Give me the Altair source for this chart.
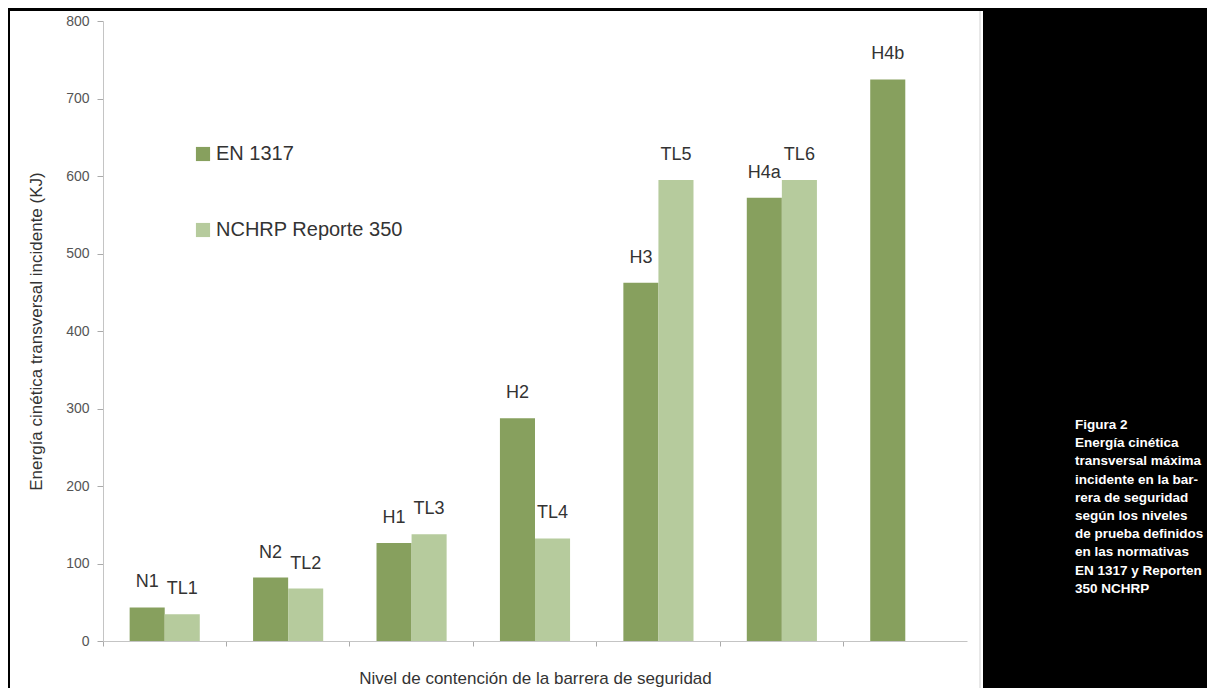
import altair as alt
import pandas as pd

categories = ["N1/TL1", "N2/TL2", "H1/TL3", "H2/TL4", "H3/TL5", "H4a/TL6", "H4b"]
en_labels = ["N1", "N2", "H1", "H2", "H3", "H4a", "H4b"]
en_values = [43.3, 81.9, 126.6, 287.5, 462.1, 572.0, 724.6]
nchrp_labels = ["TL1", "TL2", "TL3", "TL4", "TL5", "TL6"]
nchrp_values = [34.5, 67.6, 137.9, 132.3, 595.0, 595.0]
series = ["EN 1317", "NCHRP Reporte 350"]
y_ticks = [0, 100, 200, 300, 400, 500, 600, 700, 800]
caption_lines = [
    "Figura 2",
    "Energía cinética",
    "transversal máxima",
    "incidente en la bar-",
    "rera de seguridad",
    "según los niveles",
    "de prueba definidos",
    "en las normativas",
    "EN 1317 y Reporten",
    "350 NCHRP",
]

rows = []
for i, c in enumerate(categories):
    rows.append({"cat": c, "serie": series[0], "valor": en_values[i], "etq": en_labels[i]})
    if i < len(nchrp_values):
        rows.append({"cat": c, "serie": series[1], "valor": nchrp_values[i], "etq": nchrp_labels[i]})
df = pd.DataFrame(rows)

FONT = "Liberation Sans"
W, H = 864, 620

x_enc = alt.X("cat:N", sort=categories,
              scale=alt.Scale(paddingInner=0, paddingOuter=0),
              axis=alt.Axis(title="Nivel de contención de la barrera de seguridad",
                            labels=False, bandPosition=0, tickSize=5, zindex=1,
                            tickColor="#aaaaaa", domainColor="#c4c4c4",
                            titleFont=FONT, titleFontSize=17, titleFontWeight="normal",
                            titleColor="#333333", titlePadding=24))
xo_enc = alt.XOffset("serie:N", sort=series,
                     scale=alt.Scale(paddingInner=0, paddingOuter=0.76))
y_enc = alt.Y("valor:Q",
              scale=alt.Scale(domain=[0, 800], nice=False),
              axis=alt.Axis(title="Energía cinética transversal incidente (KJ)",
                            values=y_ticks, grid=False, tickSize=6, labelPadding=8, zindex=1,
                            tickColor="#aaaaaa", domainColor="#c4c4c4",
                            labelFont=FONT, labelFontSize=14, labelColor="#555555",
                            titleFont=FONT, titleFontSize=17, titleFontWeight="normal",
                            titleColor="#333333", titlePadding=20))

color_enc = alt.Color("serie:N", sort=series,
                      scale=alt.Scale(domain=series, range=["#87a05e", "#b6cb9d"]),
                      legend=alt.Legend(title=None, orient="none", legendX=90, legendY=123,
                                        symbolType="square", symbolSize=200,
                                        symbolStrokeWidth=0, symbolOpacity=1,
                                        labelFont=FONT, labelFontSize=20, labelLimit=400,
                                        labelColor="#333333", labelOffset=3,
                                        rowPadding=56, padding=0, direction="vertical"))

bg = alt.Chart(alt.Data(values=[{}])).mark_rect(color="white").encode(
    x=alt.value(-93), x2=alt.value(880), y=alt.value(-10), y2=alt.value(H + 60))

edge = alt.Chart(alt.Data(values=[{}])).mark_rule(color="#d0d0d0", strokeWidth=1).encode(
    x=alt.value(877), y=alt.value(-10), y2=alt.value(H + 60))

bars = alt.Chart(df).mark_bar(opacity=1).encode(
    x=x_enc, xOffset=xo_enc, y=y_enc, color=color_enc)

labels = alt.Chart(df).mark_text(font=FONT, fontSize=18, color="#333333",
                                 baseline="alphabetic", dy=-20).encode(
    x=alt.X("cat:N", sort=categories), xOffset=alt.XOffset("serie:N", sort=series),
    y="valor:Q", text="etq:N")

caption = alt.Chart(alt.Data(values=[{}])).mark_text(
    text=caption_lines, font=FONT, fontSize=13.5, fontWeight="bold", color="white",
    align="left", baseline="top", lineHeight=18.2).encode(
    x=alt.value(972), y=alt.value(397))

chart = alt.layer(bg, edge, bars, labels, caption).properties(
    width=W, height=H,
    background="black",
    padding={"left": 95, "top": 13, "right": 240, "bottom": 47},
    autosize=alt.AutoSizeParams(type="none"),
).configure_view(stroke=None)

chart.save("out.html", embed_options={"renderer": "svg", "actions": False})
